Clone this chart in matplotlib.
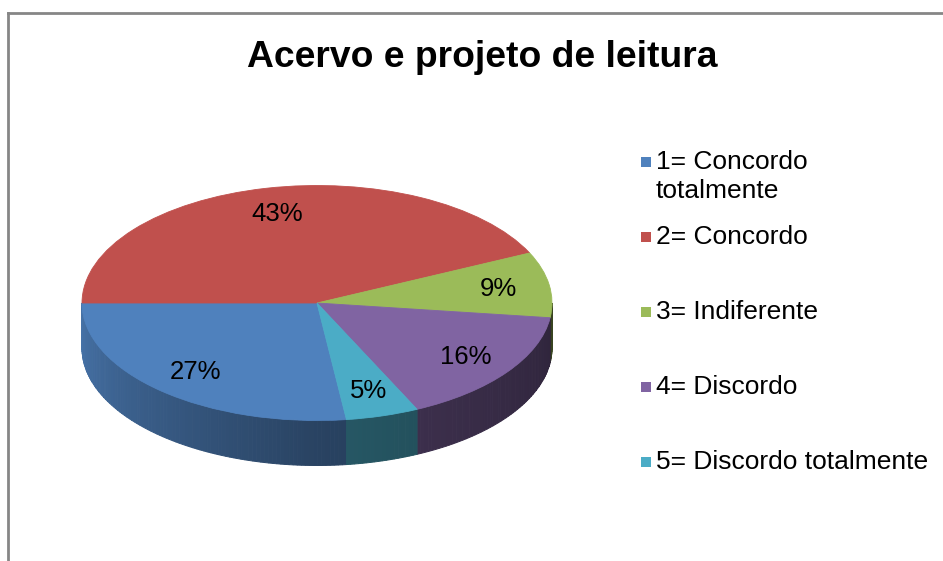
import numpy as np
import matplotlib
matplotlib.use('Agg')
import matplotlib.pyplot as plt
from matplotlib.patches import Polygon, Rectangle
from matplotlib.lines import Line2D

plt.rcParams['font.family'] = ['Liberation Sans', 'DejaVu Sans']

# Chart data
title = 'Acervo e projeto de leitura'
categories = ['1= Concordo\ntotalmente', '2= Concordo', '3= Indiferente',
              '4= Discordo', '5= Discordo totalmente']
values = [27, 43, 9, 16, 5]
colors = ['#4F81BD', '#C0504D', '#9BBB59', '#8064A2', '#4BACC6']

W, H = 943, 561
fig = plt.figure(figsize=(W / 100, H / 100), dpi=100)
fig.patch.set_facecolor('white')

# pie geometry in pixels (centre, horizontal radius, vertical radius, wall depth)
cx_px, cy_px, rx_px, ry_px, depth_px = 317, 303, 235, 117.5, 45

ax = fig.add_axes([0, 0, 1, 1])
wedges, _, autotexts = ax.pie(values, colors=colors, startangle=277.2,
                              counterclock=False, autopct='%1.0f%%',
                              pctdistance=0.78, radius=1,
                              wedgeprops=dict(linewidth=0.6, zorder=2),
                              textprops=dict(fontsize=18.5, color='black'))
for w in wedges:
    w.set_edgecolor(w.get_facecolor())
for t in autotexts:
    t.set_zorder(5)

# squash the circle into an ellipse
ax.set_aspect('auto')
ax.set_xlim(-cx_px / rx_px, (W - cx_px) / rx_px)
ax.set_ylim(-(H - cy_px) / ry_px, cy_px / ry_px)
ax.axis('off')

# side walls of the front half, shaded darker towards the right
depth = depth_px / ry_px
shade = lambda a: np.interp(a, [180, 270, 300, 360], [0.9, 0.52, 0.46, 0.36])
for w in wedges:
    t1, t2 = w.theta1 % 360, w.theta2 % 360
    if t2 <= t1:
        t2 += 360
    base = np.array(w.get_facecolor()[:3])
    for off in (0, 360):
        lo = max(t1, 180 + off)
        hi = min(t2, 360 + off)
        if hi <= lo:
            continue
        edges = np.linspace(lo, hi, max(int(hi - lo), 1) + 1)
        for a0, a1 in zip(edges[:-1], edges[1:]):
            ang = np.radians(np.linspace(a0, a1, 4))
            xs = np.cos(ang)
            ys = np.sin(ang)
            pts = np.concatenate([np.column_stack([xs, ys]),
                                  np.column_stack([xs[::-1], ys[::-1] - depth])])
            c = np.clip(base * shade((a0 + a1) / 2 - off), 0, 1)
            ax.add_patch(Polygon(pts, closed=True, facecolor=c, edgecolor=c,
                                 linewidth=0.7, zorder=1))

# overlay in pixel coordinates: border, title, legend
ov = fig.add_axes([0, 0, 1, 1])
ov.set_xlim(0, W)
ov.set_ylim(H, 0)
ov.axis('off')

ov.add_line(Line2D([8, W], [13, 13], color='#868686', linewidth=2))
ov.add_line(Line2D([8, 8], [13, H], color='#868686', linewidth=2))

ov.text(482, 57, title, fontsize=26.8, fontweight='bold', ha='center', va='center')

legend_y = [162, 237, 312, 387, 462]
for lab, col, y in zip(categories, colors, legend_y):
    ov.add_patch(Rectangle((641, y - 5), 10, 10, facecolor=col, edgecolor='none'))
    ov.text(656, y - 12.5, lab, fontsize=19, ha='left', va='top', linespacing=1.3)

fig.savefig('out.png', dpi=100)
